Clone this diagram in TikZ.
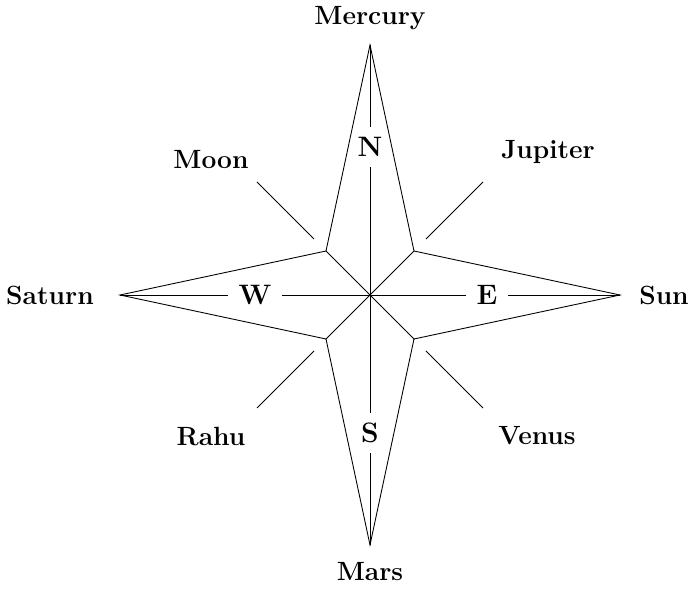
\documentclass[tikz,border=0pt]{standalone}
\usepackage{tikz}
\usetikzlibrary{positioning}

\begin{document}
\begin{tikzpicture}[
    line width=0.5pt,
    planet/.style={font=\fontsize{15}{17}\selectfont\bfseries},
    dirlabel/.style={font=\fontsize{16}{18}\selectfont\bfseries, inner sep=0.2cm},
]
\useasboundingbox (-7.4,-5.94) rectangle (6.4,5.9);

% tips and inner corners of the star
\coordinate (c) at (0,0);
\coordinate (tN) at (0,5);
\coordinate (tS) at (0,-5);
\coordinate (tW) at (-5,0);
\coordinate (tE) at (5,0);
\coordinate (cNE) at (0.88,0.88);
\coordinate (cNW) at (-0.88,0.88);
\coordinate (cSW) at (-0.88,-0.88);
\coordinate (cSE) at (0.88,-0.88);

\draw (tN) -- (cNE) -- (tE) -- (cSE) -- (tS) -- (cSW) -- (tW) -- (cNW) -- cycle;

% diagonals through the centre
\draw (cNE) -- (cSW);
\draw (cNW) -- (cSE);

% compass letters
\node[dirlabel] (lN) at (0,2.96) {N};
\node[dirlabel] (lS) at (0,-2.76) {S};
\node[dirlabel] (lW) at (-2.3,0) {W};
\node[dirlabel] (lE) at (2.34,0) {E};

\draw (tN) -- (lN) -- (c);
\draw (tS) -- (lS) -- (c);
\draw (tW) -- (lW) -- (c);
\draw (tE) -- (lE) -- (c);

% outer rays
\coordinate (rNEa) at (1.12,1.12);  \coordinate (rNEb) at (2.26,2.26);
\coordinate (rNWa) at (-1.12,1.12); \coordinate (rNWb) at (-2.26,2.26);
\coordinate (rSWa) at (-1.12,-1.12); \coordinate (rSWb) at (-2.26,-2.26);
\coordinate (rSEa) at (1.12,-1.12); \coordinate (rSEb) at (2.26,-2.26);
\draw (rNEa) -- (rNEb);
\draw (rNWa) -- (rNWb);
\draw (rSWa) -- (rSWb);
\draw (rSEa) -- (rSEb);

% planets
\node[planet] (mercury) at (0,5.54) {Mercury};
\node[planet] (mars) at (0,-5.54) {Mars};
\node[planet] (saturn) at (-6.4,0) {Saturn};
\node[planet] (sun) at (5.88,0) {Sun};
\node[planet] (moon) at (-3.18,2.7) {Moon};
\node[planet] (jupiter) at (3.56,2.86) {Jupiter};
\node[planet] (rahu) at (-3.18,-2.84) {Rahu};
\node[planet] (venus) at (3.34,-2.82) {Venus};
\end{tikzpicture}
\end{document}
